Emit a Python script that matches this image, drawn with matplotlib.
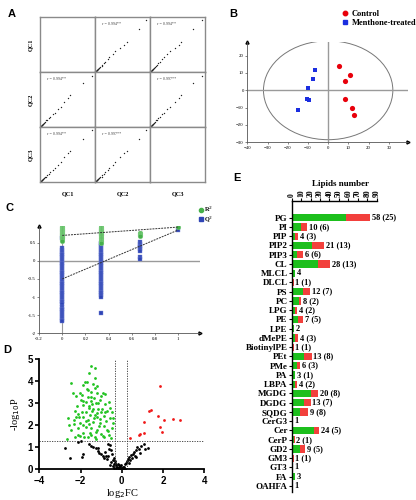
import numpy as np
import matplotlib
matplotlib.use("Agg")
import matplotlib.pyplot as plt
from matplotlib.patches import Ellipse

W, H = 416, 500
SERIF = "Liberation Serif"
SANS = "Liberation Sans"

# ---------------- panel A: QC correlation matrix ----------------
qc_names = ["QC1", "QC2", "QC3"]
qc1 = [0.95, 0.78, 0.55, 0.50, 0.44, 0.38, 0.32, 0.27, 0.23, 0.19, 0.16, 0.13,
       0.11, 0.09, 0.08, 0.07, 0.06, 0.05, 0.045, 0.04, 0.035, 0.03, 0.025, 0.02, 0.015]
qc2 = [0.93, 0.80, 0.58, 0.52, 0.46, 0.36, 0.33, 0.25, 0.24, 0.18, 0.17, 0.12,
       0.12, 0.09, 0.07, 0.075, 0.055, 0.05, 0.04, 0.042, 0.03, 0.03, 0.02, 0.022, 0.012]
qc3 = [0.94, 0.79, 0.56, 0.53, 0.45, 0.37, 0.31, 0.26, 0.22, 0.19, 0.15, 0.13,
       0.10, 0.09, 0.08, 0.065, 0.06, 0.048, 0.045, 0.038, 0.033, 0.028, 0.024, 0.018, 0.014]
qc_r = {(0, 1): "0.994", (0, 2): "0.994", (1, 0): "0.994",
        (1, 2): "0.997", (2, 0): "0.994", (2, 1): "0.997"}

# ---------------- panel B: PCA scores ----------------
ctrl_x = [5.4, 10.7, 8.4, 8.4, 11.9, 13.0]
ctrl_y = [13.8, 9.0, 5.4, -5.0, -10.4, -14.0]
trt_x = [-6.3, -7.7, -9.9, -10.7, -9.6, -15.0]
trt_y = [11.7, 6.7, 1.5, -4.8, -5.4, -11.3]

# ---------------- panel C: permutation test ----------------
perm_x = [0.0, 0.333, 0.667, 1.0]
r2_vals = [
    [0.95, 0.94, 0.93, 0.92, 0.91, 0.90, 0.89, 0.88, 0.87, 0.86, 0.85, 0.84, 0.83,
     0.82, 0.81, 0.80, 0.79, 0.78, 0.77, 0.76, 0.75, 0.74, 0.73, 0.72, 0.71, 0.70,
     0.69, 0.68, 0.67, 0.66, 0.65, 0.64, 0.62, 0.60, 0.58, 0.56],
    [0.93, 0.92, 0.91, 0.90, 0.89, 0.88, 0.87, 0.86, 0.85, 0.84, 0.83, 0.82, 0.81,
     0.80, 0.79, 0.78, 0.77, 0.76, 0.75, 0.74, 0.73, 0.72, 0.71, 0.70, 0.68, 0.66,
     0.64, 0.62, 0.60, 0.58, 0.56, 0.54, 0.52, 0.50],
    [0.78, 0.76, 0.74, 0.72, 0.70, 0.68],
    [0.93],
]
q2_vals = [
    [0.62, 0.35, 0.30, 0.25, 0.20, 0.15, 0.10, 0.05, 0.00, -0.05, -0.10, -0.15,
     -0.20, -0.25, -0.30, -0.35, -0.40, -0.45, -0.50, -0.55, -0.60, -0.65, -0.70,
     -0.75, -0.80, -0.85, -0.90, -0.95, -1.00, -1.05, -1.10, -1.15, -1.18,
     -1.27, -1.32, -1.37, -1.42, -1.47, -1.52, -1.57, -1.62, -1.65],
    [0.50, 0.45, 0.40, 0.35, 0.30, 0.25, 0.20, 0.15, 0.10, 0.05, 0.00, -0.05,
     -0.10, -0.15, -0.20, -0.25, -0.30, -0.35, -0.40, -0.45, -0.50, -0.55, -0.60,
     -0.65, -0.70, -0.75, -0.80, -0.85, -0.90, -0.95, -1.00, -1.45],
    [0.52, 0.47, 0.42, 0.37, 0.32, 0.27, 0.10, 0.06],
    [0.86],
]
r2_line = [0.70, 0.93]
q2_line = [-0.50, 0.85]

# ---------------- panel D: volcano ----------------
fc_up = [0.39, 0.83, 0.89, 1.09, 1.09, 1.30, 1.43, 1.74, 1.85, 1.85, 2.03, 1.95, 2.49, 2.80]
p_up = [1.44, 1.56, 1.61, 2.14, 1.67, 2.65, 2.68, 2.42, 3.80, 1.91, 2.23, 1.68, 2.27, 2.23]
fc_down = [-1.48, -1.30, -1.58, -1.30, -2.44, -1.80, -1.70, -1.87, -1.41, -1.19, -2.36,
           -2.03, -0.93, -0.81, -1.93, -1.50, -1.64, -1.37, -1.07, -1.76, -1.51, -1.27,
           -1.89, -2.15, -1.61, -0.83, -0.62, -1.17, -1.46, -1.74, -1.95, -1.02, -0.70,
           -0.47, -1.56, -1.32, -1.87, -2.24, -2.60, -1.19, -0.88, -0.59, -1.64, -1.41,
           -2.02, -2.31, -1.07, -0.41, -0.86, -1.74, -2.13, -1.51, -1.22, -2.46, -0.65,
           -1.89, -1.54, -1.02, -2.10, -1.30, -0.85, -1.66, -2.26, -2.67, -0.52, -1.24,
           -1.70, -2.20, -1.19, -2.00, -2.28, -2.06, -1.87, -2.57, -1.60, -1.45, -1.20,
           -1.05, -0.95, -1.75, -1.35, -1.15, -0.75, -0.72, -1.48, -1.58, -1.90, -2.10,
           -1.25, -0.90, -0.60, -0.48, -0.45, -0.55, -1.65, -1.50, -1.30, -1.00, -2.30,
           -1.85, -2.05, -0.80, -1.40, -1.10]
p_down = [4.70, 4.59, 4.36, 4.14, 3.94, 3.98, 3.95, 3.83, 3.88, 3.79, 3.48, 3.48, 3.45,
          3.42, 3.38, 3.53, 3.30, 3.23, 3.15, 3.08, 3.09, 3.03, 2.91, 2.88, 2.86, 2.95,
          3.08, 2.74, 2.65, 2.61, 2.62, 2.61, 2.64, 2.62, 2.45, 2.47, 2.36, 2.39, 2.35,
          2.36, 2.44, 2.35, 2.24, 2.17, 2.12, 2.06, 2.09, 2.11, 1.97, 1.94, 1.86, 1.86,
          1.79, 1.79, 1.74, 1.67, 1.64, 1.61, 1.58, 1.48, 1.45, 1.48, 1.45, 1.36, 1.41,
          1.36, 3.65, 3.33, 3.45, 3.15, 2.67, 2.36, 2.02, 2.02, 2.80, 2.95, 2.55, 2.30,
          2.75, 2.20, 2.35, 3.00, 2.20, 1.80, 1.55, 2.05, 3.10, 2.50, 1.70, 1.50, 1.55,
          1.90, 2.35, 2.80, 3.60, 3.30, 3.70, 3.35, 2.25, 1.45, 1.50, 2.60, 2.75, 1.95]
fc_ns = [-2.73, -2.52, -1.95, -1.89, -2.11, -1.61, -1.51, -1.38, -1.27, -1.17, -1.09, -0.99,
         -0.91, -0.85, -0.76, -0.70, -0.63, -0.59, -0.54, -0.49, -0.42, -0.37, -0.33, -0.29,
         -0.24, -0.20, -0.18, -0.13, -0.08, -0.05, 0.02, 0.07, 0.11, 0.16, 0.24, 0.29, 0.37,
         0.44, 0.54, 0.60, 0.70, 0.76, 0.85, 0.93, 1.06, 1.11, 0.89, 0.63, 0.42, 1.28, -0.54,
         -0.67, -0.80, -1.15, -0.39, -0.31, -0.59, -0.13, 0.21, 0.33, -0.02, -2.00, -0.45,
         -0.27, -0.10, 0.05, 0.14, -0.65, -0.36, 0.48, 0.68]
p_ns = [0.98, 0.53, 0.55, 0.70, 1.26, 1.14, 1.06, 1.00, 0.95, 0.98, 0.73, 0.68, 0.61,
        0.53, 0.61, 0.47, 0.92, 1.11, 0.35, 0.70, 0.42, 0.52, 0.30, 0.20, 0.12, 0.23,
        0.08, 0.05, 0.09, 0.03, 0.06, 0.02, 0.12, 0.23, 0.36, 0.45, 0.55, 0.64, 0.70,
        0.79, 0.88, 1.00, 0.91, 1.06, 1.15, 0.94, 0.73, 0.61, 0.42, 0.97, 0.88, 1.15,
        0.80, 0.85, 0.24, 0.39, 0.21, 0.18, 0.30, 0.27, 0.20, 1.28, 0.15, 0.04, 0.14,
        0.10, 0.02, 0.62, 0.08, 0.50, 0.58]
fc_cut = [-0.32, 0.26]
p_cut = 1.3

# ---------------- panel E: lipid classes ----------------
lipid_classes = ["PG", "PI", "PIP", "PIP2", "PIP3", "CL", "MLCL", "DLCL", "PS", "PC",
                 "LPG", "PE", "LPE", "dMePE", "BiotinylPE", "PEt", "PMe", "PA", "LBPA",
                 "MGDG", "DGDG", "SQDG", "CerG3", "Cer", "CerP", "GD2", "GM3", "GT3",
                 "FA", "OAHFA"]
lipid_total = [58, 10, 4, 21, 6, 28, 4, 1, 12, 8, 4, 7, 2, 4, 1, 13, 6, 3, 4,
               20, 13, 9, 1, 24, 2, 9, 1, 1, 3, 1]
lipid_diff = [25, 6, 3, 13, 6, 13, 0, 1, 7, 2, 2, 5, 0, 3, 1, 8, 3, 1, 2,
              8, 7, 8, 0, 5, 1, 5, 1, 0, 0, 0]


def px_axes(fig, x0, y0, x1, y1):
    return fig.add_axes([x0 / W, 1 - y1 / H, (x1 - x0) / W, (y1 - y0) / H])


def arrow_axes(ax, color="#555555"):
    for s in ["top", "right"]:
        ax.spines[s].set_visible(False)
    for s in ["left", "bottom"]:
        ax.spines[s].set_color(color)
        ax.spines[s].set_linewidth(0.6)
    ax.plot(1, 0, ">", color="black", ms=2.2, transform=ax.transAxes, clip_on=False)
    ax.plot(0, 1, "^", color="black", ms=2.2, transform=ax.transAxes, clip_on=False)
    ax.tick_params(length=1.5, width=0.5, color=color, labelsize=3.5, pad=1)
    for lab in ax.get_xticklabels() + ax.get_yticklabels():
        lab.set_fontfamily(SERIF)


fig = plt.figure(figsize=(W / 100, H / 100), dpi=100)

# ---- A ----
qcs = [qc1, qc2, qc3]
x_edges = [40, 95, 150, 205]
y_edges = [17, 72, 127, 182]
for i in range(3):
    for j in range(3):
        ax = px_axes(fig, x_edges[j], y_edges[i], x_edges[j + 1], y_edges[i + 1])
        ax.set_xticks([])
        ax.set_yticks([])
        for s in ax.spines.values():
            s.set_color("#8a8a8a")
            s.set_linewidth(1.0)
        ax.set_xlim(0, 1)
        ax.set_ylim(0, 1)
        if i != j:
            ax.plot(qcs[j], qcs[i], "o", color="#222222", ms=1.0, mew=0)
            ax.text(0.12, 0.86, f"r = {qc_r[(i, j)]}**", fontsize=3.0,
                    family=SERIF, color="#444444", transform=ax.transAxes)
for k, name in enumerate(qc_names):
    cx = (x_edges[k] + x_edges[k + 1]) / 2
    fig.text(cx / W, 1 - 194 / H, name, ha="center", va="center",
             fontsize=4.5, family=SERIF, fontweight="bold")
    cy = (y_edges[k] + y_edges[k + 1]) / 2
    fig.text(31 / W, 1 - cy / H, name, ha="center", va="center", rotation=90,
             fontsize=4.5, family=SERIF, fontweight="bold")

# ---- B ----
ax = px_axes(fig, 247.3, 41.7, 408, 142.3)
ax.set_xlim(-40, 39.5)
ax.set_ylim(-30, 28)
ax.add_patch(Ellipse((0, 0), 64, 57, fill=False, ec="#777777", lw=0.7))
ax.axhline(0, color="#9a9a9a", lw=1.0)
ax.plot([0, 0], [-29, 28.5], color="#9a9a9a", lw=1.0)
ax.scatter(ctrl_x, ctrl_y, s=14, color="#e8000b", marker="o", zorder=3, lw=0)
ax.scatter(trt_x, trt_y, s=12, color="#1b2ee0", marker="s", zorder=3, lw=0)
ax.set_xticks([-40, -30, -20, -10, 0, 10, 20, 30])
ax.set_yticks([-30, -20, -10, 0, 10, 20])
arrow_axes(ax)
fig.lines.append(plt.Line2D([345 / W], [1 - 13 / H], marker="o", color="#e8000b",
                            ms=3.2, transform=fig.transFigure, figure=fig))
fig.lines.append(plt.Line2D([345 / W], [1 - 22 / H], marker="s", color="#1b2ee0",
                            ms=2.8, transform=fig.transFigure, figure=fig))
fig.text(352 / W, 1 - 14 / H, "Control", fontsize=6, family=SERIF,
         fontweight="bold", va="center")
fig.text(352 / W, 1 - 23 / H, "Menthone-treated", fontsize=6, family=SERIF,
         fontweight="bold", va="center")

# ---- C ----
ax = px_axes(fig, 39.1, 226, 200.3, 333.3)
ax.set_xlim(-0.2, 1.19)
ax.set_ylim(-2, 0.96)
ax.axhline(0, color="#9a9a9a", lw=1.0)
ax.plot([0, 0], [-2, 0.9], color="#9a9a9a", lw=0.8)
for xv, ys in zip(perm_x, q2_vals):
    ax.plot([xv] * len(ys), ys, "s", color="#2f45b5", ms=3.2, mew=0.3,
            mec="#7a8ad8", zorder=3)
for xv, ys in zip(perm_x, r2_vals):
    ax.plot([xv] * len(ys), ys, "o", color="#46b04a", ms=3.4, mew=0.3,
            mec="#8fd891", zorder=4)
ax.plot([0, 1], r2_line, ls=(0, (2, 1)), color="#333333", lw=0.7, zorder=5)
ax.plot([0, 1], q2_line, ls=(0, (2, 1)), color="#333333", lw=0.7, zorder=5)
ax.set_xticks([-0.2, 0, 0.2, 0.4, 0.6, 0.8, 1])
ax.set_xticklabels(["-0.2", "0", "0.2", "0.4", "0.6", "0.8", "1"])
ax.set_yticks([-2, -1.5, -1, -0.5, 0, 0.5])
ax.set_yticklabels(["-2", "-1.5", "-1", "-0.5", "0", "0.5"])
arrow_axes(ax)
fig.lines.append(plt.Line2D([201 / W], [1 - 209.5 / H], marker="o", color="#46b04a",
                            ms=3.0, transform=fig.transFigure, figure=fig))
fig.lines.append(plt.Line2D([201 / W], [1 - 218.5 / H], marker="s", color="#2f45b5",
                            ms=2.6, transform=fig.transFigure, figure=fig))
fig.text(204.5 / W, 1 - 209 / H, "R$^2$", fontsize=4.5, family=SERIF,
         fontweight="bold", va="center")
fig.text(204.5 / W, 1 - 219 / H, "Q$^2$", fontsize=4.5, family=SERIF,
         fontweight="bold", va="center")

# ---- D ----
ax = px_axes(fig, 39.3, 359.3, 204.3, 469.3)
ax.set_xlim(-4, 4)
ax.set_ylim(0, 5)
ax.scatter(fc_ns, p_ns, s=4, color="black", lw=0)
ax.scatter(fc_down, p_down, s=4, color="#22c322", lw=0)
ax.scatter(fc_up, p_up, s=4, color="#f01818", lw=0)
for c in fc_cut:
    ax.axvline(c, ls=(0, (1.5, 1.5)), color="#333333", lw=0.6)
ax.axhline(p_cut, ls=(0, (1.5, 1.5)), color="#333333", lw=0.6)
for s in ["top", "right"]:
    ax.spines[s].set_visible(False)
for s in ["left", "bottom"]:
    ax.spines[s].set_linewidth(1.3)
ax.set_xticks([-4, -2, 0, 2, 4])
ax.set_yticks([0, 1, 2, 3, 4, 5])
ax.tick_params(length=3, width=1.2, labelsize=7, pad=1.5)
for lab in ax.get_xticklabels() + ax.get_yticklabels():
    lab.set_fontfamily(SANS)
    lab.set_fontweight("bold")
ax.set_xlabel("log$_2$FC", fontsize=7.5, family=SERIF, labelpad=1)
ax.set_ylabel("-log$_{10}$P", fontsize=7.5, family=SERIF, labelpad=4)

# ---- E ----
ax = px_axes(fig, 291.7, 201, 376.7, 491.5)
y = np.arange(len(lipid_classes))
ax.barh(y, lipid_total, height=0.78, color="#1dbf1d")
ax.barh(y, lipid_diff, left=lipid_total, height=0.78, color="#f2403c")
ax.set_xlim(0, 90)
ax.set_ylim(len(lipid_classes) - 0.4, -1.8)
ax.xaxis.tick_top()
ax.set_xticks(range(0, 91, 10))
ax.tick_params(axis="x", labelrotation=90, labelsize=5.5, length=2, width=0.8, pad=1)
ax.set_yticks(y)
ax.set_yticklabels(lipid_classes)
ax.tick_params(axis="y", labelsize=6.5, length=2, width=0.8, pad=1)
for lab in ax.get_xticklabels() + ax.get_yticklabels():
    lab.set_fontfamily(SERIF)
    lab.set_fontweight("bold")
for s in ["bottom", "right"]:
    ax.spines[s].set_visible(False)
for s in ["top", "left"]:
    ax.spines[s].set_linewidth(1.0)
for yi, t, d in zip(y, lipid_total, lipid_diff):
    txt = f"{t} ({d})" if d else f"{t}"
    ax.text(t + d + 2, yi, txt, va="center", fontsize=6, family=SERIF,
            fontweight="bold")
fig.text(340 / W, 1 - 184 / H, "Lipids number", ha="center", va="center",
         fontsize=6.5, family=SERIF, fontweight="bold")

# ---- panel letters ----
for letter, (lx, ly) in {"A": (12, 14), "B": (233, 14), "C": (9, 208),
                         "D": (7, 350), "E": (237, 178)}.items():
    fig.text(lx / W, 1 - ly / H, letter, fontsize=8, family=SANS,
             fontweight="bold", ha="center", va="center")

fig.savefig("out.png", dpi=100)
plt.close(fig)
